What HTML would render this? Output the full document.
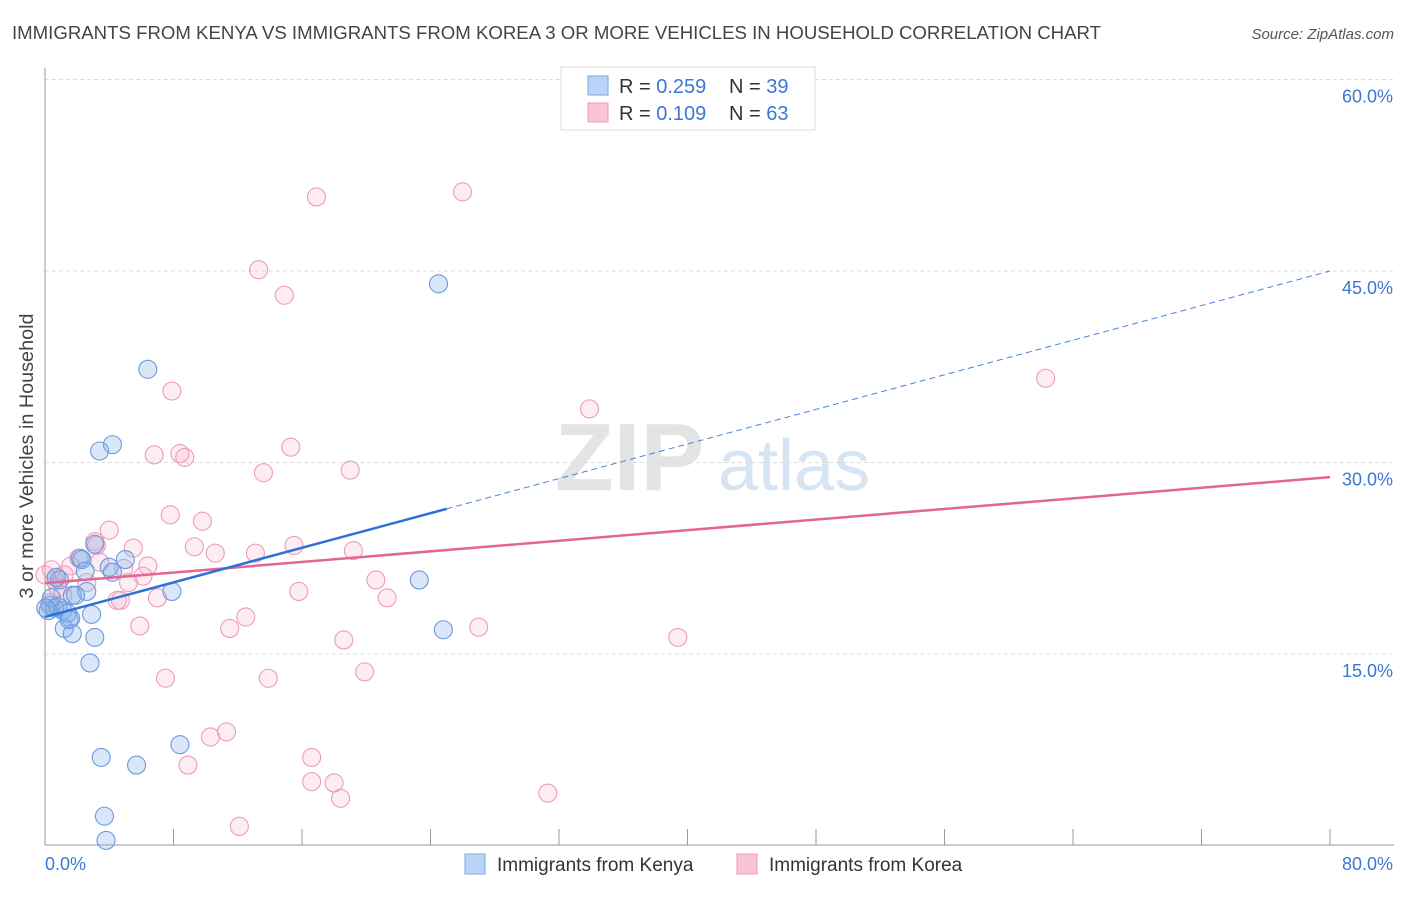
<!DOCTYPE html>
<html><head><meta charset="utf-8"><style>
body{margin:0;background:#fff;font-family:"Liberation Sans",sans-serif;}
svg text{font-family:"Liberation Sans",sans-serif;}
</style></head><body>
<svg id="chart" width="1406" height="892" viewBox="0 0 1406 892" xmlns="http://www.w3.org/2000/svg">
<text x="12" y="39" font-size="18" fill="#444" textLength="1089" lengthAdjust="spacingAndGlyphs">IMMIGRANTS FROM KENYA VS IMMIGRANTS FROM KOREA 3 OR MORE VEHICLES IN HOUSEHOLD CORRELATION CHART</text>
<text x="1394" y="39" font-size="15" fill="#555" text-anchor="end" font-style="italic">Source: ZipAtlas.com</text>
<text x="555" y="490" font-size="96" fill="#e4e4e4" font-family="Liberation Serif" font-weight="bold">ZIP</text>
<text x="718" y="490" font-size="72" fill="#d6e4f4">atlas</text>
<g id="grid"></g>
<g id="axes"></g>
<g id="marks"></g>
<text transform="translate(33,456) rotate(-90)" font-size="19" fill="#444" text-anchor="middle" textLength="285" lengthAdjust="spacingAndGlyphs">3 or more Vehicles in Household</text>
<g>
<rect x="561" y="67" width="254" height="63" fill="#fff" stroke="#ddd"/>
<rect x="588" y="76" width="20" height="19" fill="#b9d4f6" stroke="#7aa6e0"/>
<rect x="588" y="103" width="20" height="19" fill="#f9c5d5" stroke="#ec9ab4"/>
<text x="619" y="93" font-size="20" fill="#333">R = <tspan fill="#3a78d4">0.259</tspan></text>
<text x="729" y="93" font-size="20" fill="#333">N = <tspan fill="#3a78d4">39</tspan></text>
<text x="619" y="120" font-size="20" fill="#333">R = <tspan fill="#3a78d4">0.109</tspan></text>
<text x="729" y="120" font-size="20" fill="#333">N = <tspan fill="#3a78d4">63</tspan></text>
</g>
<g>
<rect x="465" y="854" width="20" height="20" fill="#b9d4f6" stroke="#7aa6e0"/>
<text x="497" y="871" font-size="19" fill="#333">Immigrants from Kenya</text>
<rect x="737" y="854" width="20" height="20" fill="#f9c5d5" stroke="#ec9ab4"/>
<text x="769" y="871" font-size="19" fill="#333">Immigrants from Korea</text>
</g>
</svg>
<script>
const yTicks=[15,30,45,60];
const yTickLabels=["15.0%","30.0%","45.0%","60.0%"];
const xTicks=[0,8,16,24,32,40,48,56,64,72,80];
const kenyaX=[24.5,6.4,4.2,3.4,5.0,2.2,2.3,3.1,0.9,0.7,4.0,4.2,2.5,2.6,1.7,7.9,23.3,0.3,0.6,1.1,1.4,0.2,1.6,1.2,1.7,2.9,3.1,2.8,24.8,3.5,5.7,8.4,3.7,3.8,0.4,0.8,1.9,0.05,1.5];
const kenyaY=[44.0,37.3,31.4,30.9,22.4,22.5,22.4,23.6,20.8,21.0,21.8,21.4,21.5,19.9,19.6,19.9,20.8,18.8,18.6,18.4,18.2,18.4,17.8,17.0,16.6,18.1,16.3,14.3,16.9,6.9,6.3,7.9,2.3,0.4,19.4,18.7,19.6,18.6,17.7];
const koreaX=[26.0,16.9,13.3,14.9,7.9,33.9,62.3,15.3,6.8,8.4,8.7,13.6,19.0,7.8,9.8,4.0,3.2,3.1,5.5,9.3,10.6,13.1,15.5,19.2,6.4,4.9,1.2,0.4,0.6,6.1,5.2,2.6,20.6,15.8,7.0,4.7,4.5,21.3,12.5,5.9,11.5,27.0,18.6,39.4,7.5,13.9,19.9,11.3,10.3,8.9,16.6,16.6,18.0,18.4,31.3,12.1,0.3,0.8,1.6,2.1,3.4,1.1,0.0];
const koreaY=[51.2,50.8,45.1,43.1,35.6,34.2,36.6,31.2,30.6,30.7,30.4,29.2,29.4,25.9,25.4,24.7,23.5,23.8,23.3,23.4,22.9,22.9,23.5,23.1,21.9,21.7,21.2,21.6,20.8,21.1,20.6,20.6,20.8,19.9,19.4,19.2,19.2,19.4,17.9,17.2,17.0,17.1,16.1,16.3,13.1,13.1,13.6,8.9,8.5,6.3,6.9,5.0,4.9,3.7,4.1,1.5,19.0,20.2,21.9,22.5,22.2,19.6,21.2];
const kenyaTrend=[17.9,45.0];
const kenyaSolidEnd=25;
const koreaTrend=[20.55,28.85];
const NS="http://www.w3.org/2000/svg";
const X=v=>45+v*(1285/80);
const Y=v=>845.5-v*(766/60);
function mk(tag,attrs,parent){const e=document.createElementNS(NS,tag);for(const k in attrs)e.setAttribute(k,attrs[k]);parent.appendChild(e);return e;}
const grid=document.getElementById('grid'),axes=document.getElementById('axes'),marks=document.getElementById('marks');
yTicks.forEach((t,i)=>{
 const l=mk('line',{x1:45,x2:1394,y1:Y(t),y2:Y(t),stroke:'#ddd','stroke-dasharray':'4,3'},grid);
 
 
 const tx=mk('text',{x:1393,y:Y(t)+23,'font-size':18,fill:'#3a78d4','text-anchor':'end'},axes);
 tx.textContent=yTickLabels[i];
 
 
});
const ax=mk('line',{x1:45,x2:45,y1:68,y2:845,stroke:'#999'},axes);


const bx=mk('line',{x1:45,x2:1394,y1:845,y2:845,stroke:'#999'},axes);


xTicks.forEach(t=>{
 const l=mk('line',{x1:X(t),x2:X(t),y1:829,y2:845,stroke:'#999'},axes);
 
 
});
const x0=mk('text',{x:45,y:870,'font-size':18,fill:'#3a78d4'},axes);x0.textContent='0.0%';


const x1=mk('text',{x:1393,y:870,'font-size':18,fill:'#3a78d4','text-anchor':'end'},axes);x1.textContent='80.0%';


koreaX.forEach((v,i)=>{
 const c=mk('circle',{cx:X(v),cy:Y(koreaY[i]),r:9,fill:'rgba(246,170,198,0.22)',stroke:'#ec9cb7','stroke-width':1.1},marks);
 
 
});
kenyaX.forEach((v,i)=>{
 const c=mk('circle',{cx:X(v),cy:Y(kenyaY[i]),r:9,fill:'rgba(130,175,235,0.3)',stroke:'#6a9ade','stroke-width':1.1},marks);
 
 
});
const kAt=x=>kenyaTrend[0]+(kenyaTrend[1]-kenyaTrend[0])*x/80;
const t1=mk('line',{x1:X(0),y1:Y(koreaTrend[0]),x2:X(80),y2:Y(koreaTrend[1]),stroke:'#e2668f','stroke-width':2.5},marks);


const t2=mk('line',{x1:X(0),y1:Y(kAt(0)),x2:X(kenyaSolidEnd),y2:Y(kAt(kenyaSolidEnd)),stroke:'#2e70d6','stroke-width':2.5},marks);


const t3=mk('line',{x1:X(kenyaSolidEnd),y1:Y(kAt(kenyaSolidEnd)),x2:X(80),y2:Y(kAt(80)),stroke:'#4a82d8','stroke-width':1,'stroke-dasharray':'6,4'},marks);


</script>
</body></html>
